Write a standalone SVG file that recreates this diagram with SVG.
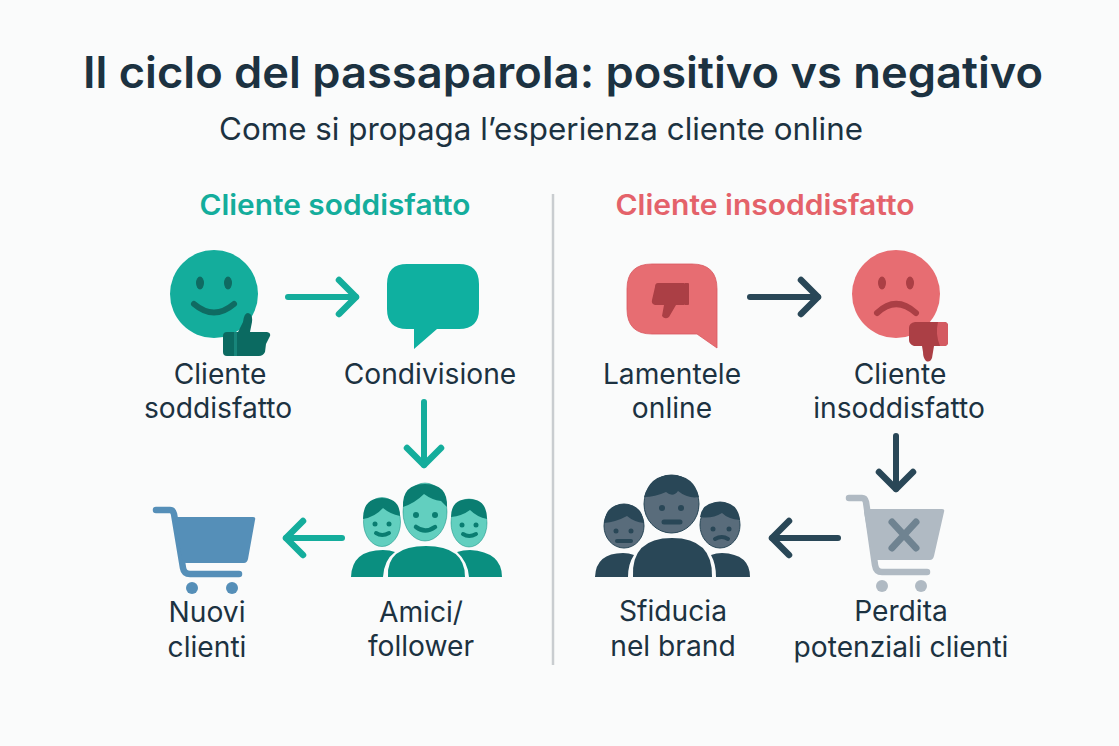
<svg xmlns="http://www.w3.org/2000/svg" width="1119" height="746" viewBox="0 0 1119 746">
<style>
text{font-family:Inter,"Liberation Sans",sans-serif;fill:#1c3241;text-anchor:middle}
.l{font-size:28.200px}
.h{font-size:28px;font-weight:600}
.c{fill:none;stroke-width:6;stroke-linecap:round}
.ct{stroke:#14ad9c;marker-end:url(#at)}
.cd{stroke:#294757;marker-end:url(#ad)}
.ln{fill:none;stroke-linecap:round;stroke-linejoin:round}
</style>
<defs>
<marker id="at" markerUnits="userSpaceOnUse" markerWidth="40" markerHeight="50" refX="21" refY="20" orient="auto" overflow="visible"><path d="M4 3L21 20L4 37" fill="none" stroke="#14ad9c" stroke-width="6.500" stroke-linecap="round" stroke-linejoin="round"/></marker>
<marker id="ad" markerUnits="userSpaceOnUse" markerWidth="40" markerHeight="50" refX="21" refY="20" orient="auto" overflow="visible"><path d="M4 3L21 20L4 37" fill="none" stroke="#294757" stroke-width="6.500" stroke-linecap="round" stroke-linejoin="round"/></marker>
</defs>
<rect width="1119" height="746" fill="#fafbfb"/>
<g id="title">
<text x="563" y="88" font-size="44" font-weight="600" textLength="960" lengthAdjust="spacingAndGlyphs">Il ciclo del passaparola: positivo vs negativo</text>
<text x="541" y="140" font-size="31" textLength="644" lengthAdjust="spacingAndGlyphs">Come si propaga l’esperienza cliente online</text>
</g>
<line id="divider" x1="553" y1="194" x2="553" y2="665" stroke="#c9cdd0" stroke-width="2.500"/>
<g id="header-left"><text class="h" x="335" y="215" style="fill:#14ad9c" textLength="271" lengthAdjust="spacingAndGlyphs">Cliente soddisfatto</text></g>
<g id="header-right"><text class="h" x="765" y="215" style="fill:#e4626a" textLength="299" lengthAdjust="spacingAndGlyphs">Cliente insoddisfatto</text></g>

<g id="connectors">
<line class="c ct" x1="288" y1="297" x2="356" y2="297"/>
<line class="c ct" x1="424" y1="402" x2="424" y2="465"/>
<line class="c ct" x1="342" y1="538" x2="286" y2="538"/>
<line class="c cd" x1="750" y1="297" x2="818" y2="297"/>
<line class="c cd" x1="896" y1="436" x2="896" y2="489"/>
<line class="c cd" x1="838" y1="538" x2="772" y2="538"/>
</g>

<g id="node-cliente-soddisfatto">
<circle cx="214" cy="294" r="44" fill="#14ad9c"/>
<ellipse cx="200" cy="283" rx="4" ry="6.500" fill="#0f6b62"/><ellipse cx="228" cy="283" rx="4" ry="6.500" fill="#0f6b62"/>
<path class="ln" d="M194 304Q214 321 234 304" stroke="#0f6b62" stroke-width="6"/>
<path d="M227 332H238L243 322Q244 313 248 313Q253 314 252 322L250 332H267Q271 333 270 336L266 344L265 352Q263 356 259 356H227Q223 356 223 352V336Q223 332 227 332Z" fill="#0b6a61"/>
<rect x="234" y="332" width="3" height="24" fill="#17857a"/>
<text class="l" x="220" y="384">Cliente</text><text class="l" x="218" y="418">soddisfatto</text>
</g>
<g id="node-condivisione">
<path d="M407 264H459Q479 264 479 284V309Q479 329 459 329H437L414 349V329H407Q387 329 387 309V284Q387 264 407 264Z" fill="#0fb0a0"/>
<text class="l" x="430" y="384">Condivisione</text>
</g>
<g id="node-amici">
<g fill="#62cfbf" stroke="#0b8a7c" stroke-width="0.500">
<ellipse cx="425" cy="512" rx="22" ry="29"/><ellipse cx="382" cy="522" rx="18.500" ry="24.500"/><ellipse cx="469" cy="523" rx="18" ry="24"/>
</g>
<g fill="#0a7d71">
<path d="M403 507Q402 484 425 484Q448 484 447 507L441 501Q432 500 424 494Q415 503 403 507Z"/>
<path d="M363 519Q363 498 382 498Q400 498 400 516Q390 514 383 508Q375 517 363 519Z"/>
<path d="M451 517Q451 499 469 499Q487 499 487 519Q477 517 470 510Q462 516 451 517Z"/>
<circle cx="416" cy="515" r="3"/><circle cx="435" cy="515" r="3"/><circle cx="375" cy="524" r="2.500"/><circle cx="389" cy="524" r="2.500"/><circle cx="462" cy="525" r="2.500"/><circle cx="476" cy="525" r="2.500"/>
</g>
<g fill="none" stroke="#0a7d71" stroke-linecap="round"><path d="M416 527Q425 534 435 527" stroke-width="4.500"/><path d="M376 533Q382 537 389 533" stroke-width="4"/><path d="M463 534Q469 538 476 534" stroke-width="4"/></g>
<g fill="#0a8f80">
<path d="M388 577Q386 546 426 546Q465 546 465 577Z"/>
<path d="M351 577Q352 550 383 550Q390 550 395 552Q384 560 383 577Z"/>
<path d="M457 552Q463 550 470 550Q502 552 502 577H469Q468 562 457 552Z"/>
</g>
<text class="l" x="421" y="622">Amici/</text><text class="l" x="421" y="656">follower</text>
</g>
<g id="node-nuovi-clienti">
<path class="ln" d="M156 510H170Q173 510 174 514L183 568Q184 574 190 574H239" stroke="#558fb8" stroke-width="6.500"/>
<path d="M177 517H253Q256 517 255 520L248 559Q247 563 244 563H186Q183 563 182 559L175 520Z" fill="#558fb8"/>
<circle cx="192" cy="588" r="6" fill="#558fb8"/><circle cx="232" cy="588" r="6" fill="#558fb8"/>
<text class="l" x="207" y="622">Nuovi</text><text class="l" x="207" y="657">clienti</text>
</g>

<g id="node-lamentele">
<path d="M652 264H692Q717 264 717 289V348L697 334H652Q627 334 627 309V289Q627 264 652 264Z" fill="#e76d72" stroke="#d9585f" stroke-width="0.800"/>
<path d="M658 283H684V305H676L669 317Q665 320 662 316L664 305H655Q651 304 652 300L655 287Q655 283 658 283Z" fill="#ab3f45"/>
<rect x="684" y="283" width="5" height="22" rx="1" fill="#ab3f45"/>
<text class="l" x="672" y="384">Lamentele</text><text class="l" x="672" y="418">online</text>
</g>
<g id="node-cliente-insoddisfatto">
<circle cx="896" cy="294" r="44" fill="#e76d72"/>
<ellipse cx="882" cy="283" rx="4" ry="6.500" fill="#ab3f45"/><ellipse cx="910" cy="283" rx="4" ry="6.500" fill="#ab3f45"/>
<path class="ln" d="M877 313Q896 295 916 313" stroke="#ab3f45" stroke-width="6"/>
<path d="M915 322H944Q948 322 948 326V342Q948 346 944 346H934L932 358Q930 363 926 361Q923 358 923 352L922 346H914Q909 344 909 340V328Q909 323 915 322Z" fill="#ab3f45"/>
<path d="M938 322H944Q948 322 948 326V342Q948 346 944 346H940Q935 334 938 322Z" fill="#d45a61"/>
<text class="l" x="900" y="384">Cliente</text><text class="l" x="899" y="418">insoddisfatto</text>
</g>
<g id="node-perdita">
<path class="ln" d="M849 498H862Q865 498 866 502L875 565Q876 572 882 572H927" stroke="#b0bac3" stroke-width="6.500"/>
<path d="M866 509H942Q945 509 944 512L934 556Q933 560 930 560H876Q873 560 872 556L864 512Z" fill="#b0bac3"/>
<circle cx="882" cy="586" r="6" fill="#b0bac3"/><circle cx="921" cy="586" r="6" fill="#b0bac3"/>
<path class="ln" d="M892 522L916 548M916 522L892 548" stroke="#6f8391" stroke-width="7"/>
<text class="l" x="901" y="621">Perdita</text><text class="l" x="901" y="657">potenziali clienti</text>
</g>
<g id="node-sfiducia">
<g fill="#596c7b" stroke="#294757" stroke-width="1"><ellipse cx="671.500" cy="504" rx="27.500" ry="29"/><ellipse cx="624" cy="526" rx="20" ry="22"/><ellipse cx="720" cy="525" rx="20" ry="23"/></g>
<g fill="#294757">
<path d="M644 497Q650 475 671 475Q694 475 699 497Q688 499 678 491Q673 498 666 492Q655 497 644 497Z"/>
<path d="M604 523Q606 504 624 504Q642 504 644 523Q634 522 627 516Q616 522 604 523Z"/>
<path d="M700 517Q702 502 720 502Q738 502 740 520Q728 519 722 513Q712 519 700 517Z"/>
<circle cx="662" cy="508" r="3"/><circle cx="681" cy="508" r="3"/><circle cx="616" cy="531" r="2.500"/><circle cx="631" cy="531" r="2.500"/><circle cx="713" cy="529" r="2.500"/><circle cx="729" cy="529" r="2.500"/>
<path d="M633 577Q631 538 672 538Q713 538 712 577Z"/>
<path d="M595 577Q596 553 623 553Q629 553 634 555Q628 564 628 577Z"/>
<path d="M711 555Q716 553 722 553Q750 554 750 577H716Q716 564 711 555Z"/>
</g>
<g fill="none" stroke="#294757" stroke-linecap="round"><path d="M664 522H680" stroke-width="5"/><path d="M617 541H631" stroke-width="4"/><path d="M715 539Q722 535 728 539" stroke-width="4"/></g>
<text class="l" x="673" y="621">Sfiducia</text><text class="l" x="673" y="656">nel brand</text>
</g>
</svg>
